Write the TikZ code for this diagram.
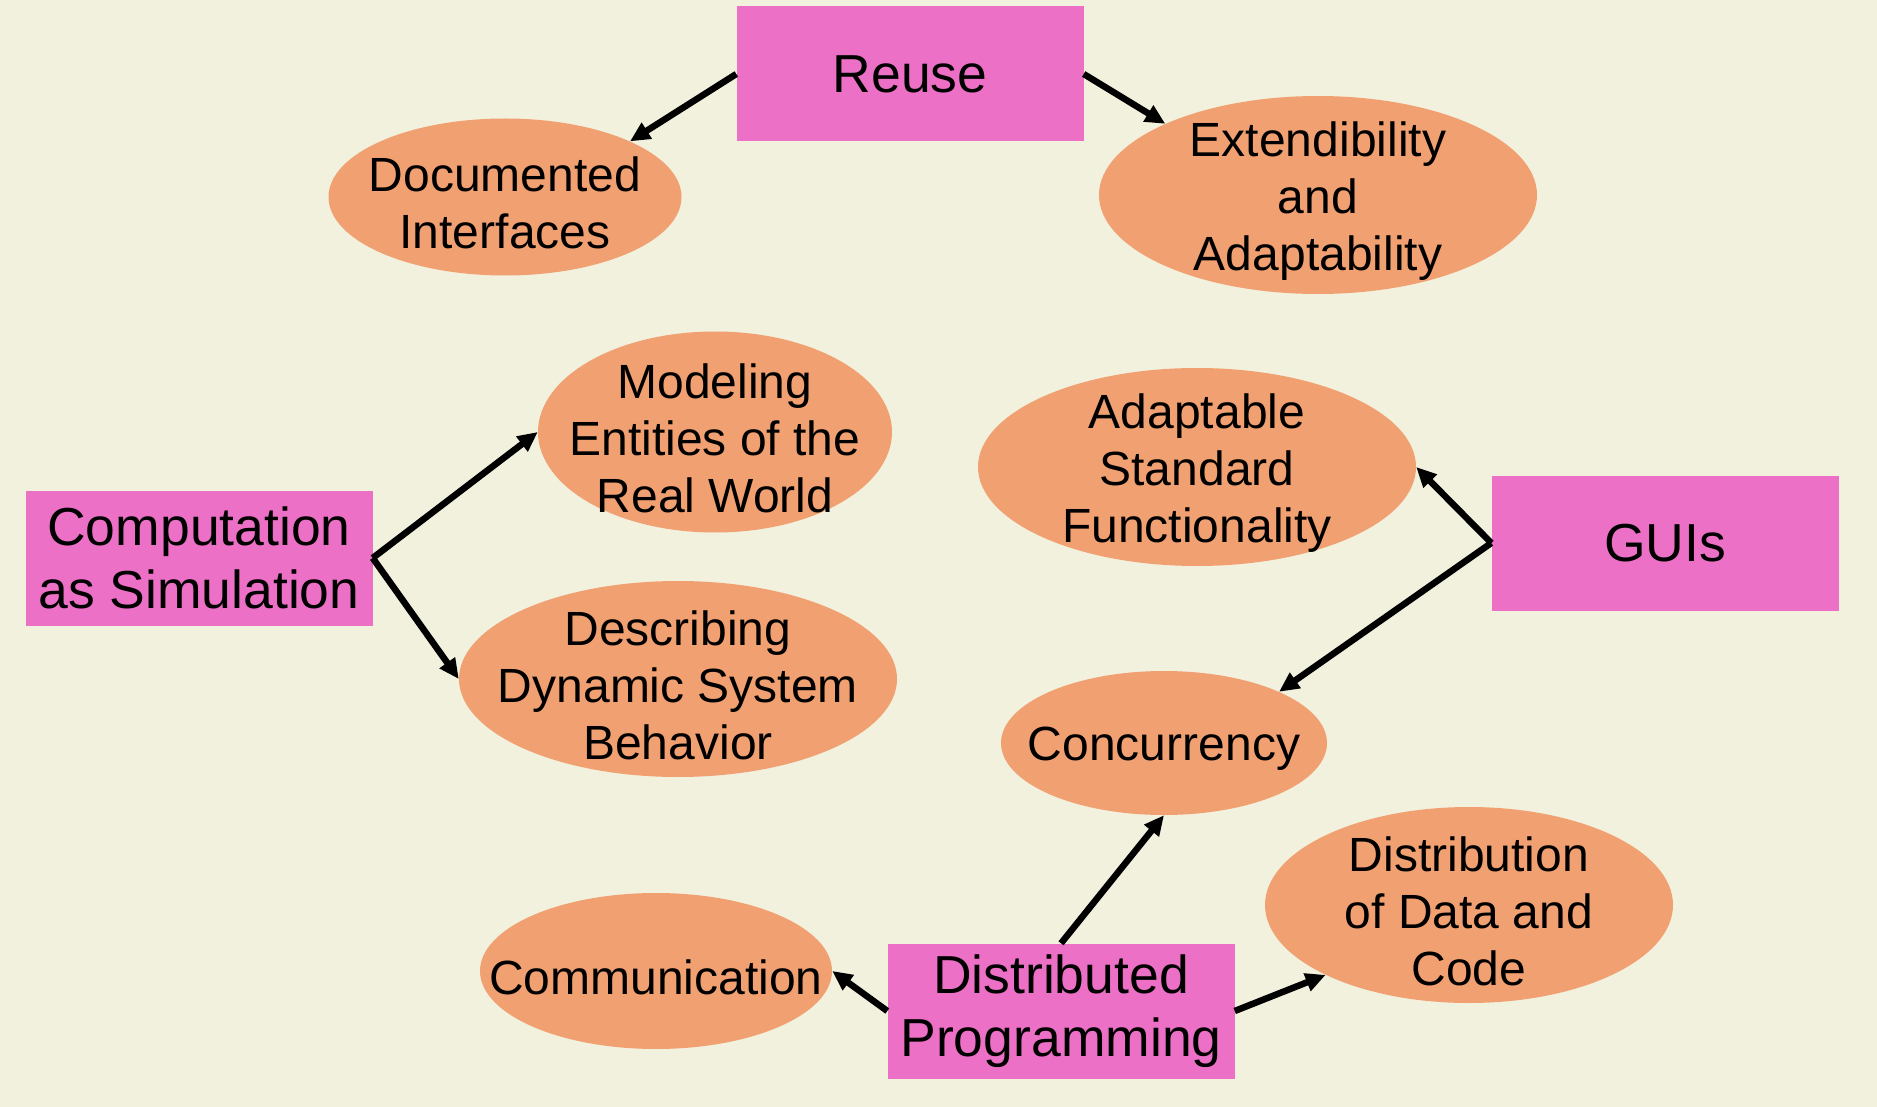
\documentclass[tikz,border=0pt]{standalone}
\usepackage{fontspec}
\setmainfont{Liberation Sans}
\usetikzlibrary{shapes.geometric,arrows.meta}
\definecolor{bgc}{HTML}{F2F1DE}
\definecolor{boxc}{HTML}{EC70C6}
\definecolor{ellc}{HTML}{F1A072}
\tikzset{
  boxnode/.style={rectangle, fill=boxc, inner sep=0pt, minimum width=347pt, minimum height=135pt, align=center, font=\fontsize{53.5pt}{63pt}\selectfont},
  ellnode/.style={ellipse, fill=ellc, inner sep=0pt},
  elltext/.style={align=center, inner sep=0pt, yshift=-6pt, font=\fontsize{48pt}{57pt}\selectfont},
  conn/.style={line width=6.5pt, -{Triangle[length=20pt,width=18pt]}}
}
\begin{document}
\begin{tikzpicture}[x=1pt,y=-1pt]
\fill[bgc] (0,0) rectangle (1877,1107);
\useasboundingbox (0,0) rectangle (1877,1107);
% boxes
\node[boxnode] (reuse) at (910,74) {Reuse};
\node[boxnode] (comp) at (199,558) {Computation\\as Simulation};
\node[boxnode] (guis) at (1665,543) {GUIs};
\node[boxnode] (dist) at (1061,1011) {Distributed\\Programming};
% ellipses
\node[ellnode, minimum width=353pt, minimum height=157pt] (doc) at (505,197) {};
\node[elltext] (docT) at (doc) {Documented\\Interfaces};
\node[ellnode, minimum width=438pt, minimum height=198pt] (ext) at (1318,195) {};
\node[elltext] (extT) at (ext) {Extendibility\\and\\Adaptability};
\node[ellnode, minimum width=354pt, minimum height=201pt] (mod) at (715,432) {};
\node[elltext] (modT) at (mod) {Modeling\\Entities of the\\Real World};
\node[ellnode, minimum width=438pt, minimum height=196pt] (desc) at (678,679) {};
\node[elltext] (descT) at (desc) {Describing\\Dynamic System\\Behavior};
\node[ellnode, minimum width=438pt, minimum height=198pt] (adapt) at (1197,467) {};
\node[elltext] (adaptT) at (adapt) {Adaptable\\Standard\\Functionality};
\node[ellnode, minimum width=326pt, minimum height=144pt] (conc) at (1164,743) {};
\node[elltext] (concT) at (conc) {Concurrency};
\node[ellnode, minimum width=408pt, minimum height=196pt] (distr) at (1469,905) {};
\node[elltext] (distrT) at (distr) {Distribution\\of Data and\\Code};
\node[ellnode, minimum width=352pt, minimum height=156pt] (comm) at (656,971) {};
\node[elltext] (commT) at (comm) {Communication};
% connectors
\draw[conn] (reuse.west) -- (doc.24);
\draw[conn] (reuse.east) -- (ext.155);
\draw[conn] (comp.east) -- (mod.west);
\draw[conn] (comp.east) -- (desc.west);
\draw[conn] (guis.west) -- (adapt.east);
\draw[conn] (guis.west) -- (conc.24);
\draw[conn] (dist.north) -- (conc.south);
\draw[conn] (dist.west) -- (comm.east);
\draw[conn] (dist.east) -- (distr.206);
\end{tikzpicture}
\end{document}
